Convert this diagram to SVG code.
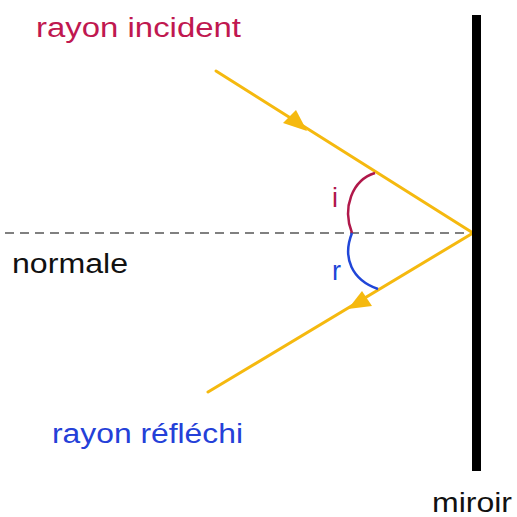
<svg xmlns="http://www.w3.org/2000/svg" width="517" height="517" viewBox="0 0 517 517">
<style>
.ray{stroke:#f5b90f;stroke-width:3;fill:none;stroke-linecap:round}
.lbl{font-family:"Liberation Sans",Arial,sans-serif;font-size:27px}
</style>
<rect width="517" height="517" fill="#fff"/>
<g id="connectors">
<line id="normal" x1="5" y1="233" x2="472" y2="233" stroke="#808080" stroke-width="2" stroke-dasharray="9 6"/>
<line class="ray" x1="216" y1="71" x2="473" y2="233"/>
<line class="ray" x1="473" y1="233" x2="208" y2="392"/>
<polygon points="307,131 283,123 296,110" fill="#f5b90f"/>
<polygon points="348,309 362,291 372,306" fill="#f5b90f"/>
<path d="M375,173 C352,180 342,208 352,233" stroke="#b0184a" stroke-width="2.5" fill="none"/>
<path d="M352,233 C342,258 352,280 378,289" stroke="#2046d8" stroke-width="2.5" fill="none"/>
</g>
<g id="mirror"><rect x="472" y="15" width="9" height="456" fill="#000"/></g>
<g id="labels">
<text class="lbl" x="36" y="37" fill="#c01850" textLength="205" lengthAdjust="spacingAndGlyphs">rayon incident</text>
<text class="lbl" x="12" y="273" fill="#111" textLength="116" lengthAdjust="spacingAndGlyphs">normale</text>
<text class="lbl" x="52" y="443" fill="#2440d8" textLength="191" lengthAdjust="spacingAndGlyphs">rayon réfléchi</text>
<text class="lbl" x="432" y="512" fill="#111" font-size="25" textLength="80" lengthAdjust="spacingAndGlyphs">miroir</text>
<text class="lbl" x="332" y="207" fill="#b0184a" font-size="29">i</text>
<text class="lbl" x="332" y="280" fill="#2046d8" font-size="29">r</text>
</g>
</svg>
